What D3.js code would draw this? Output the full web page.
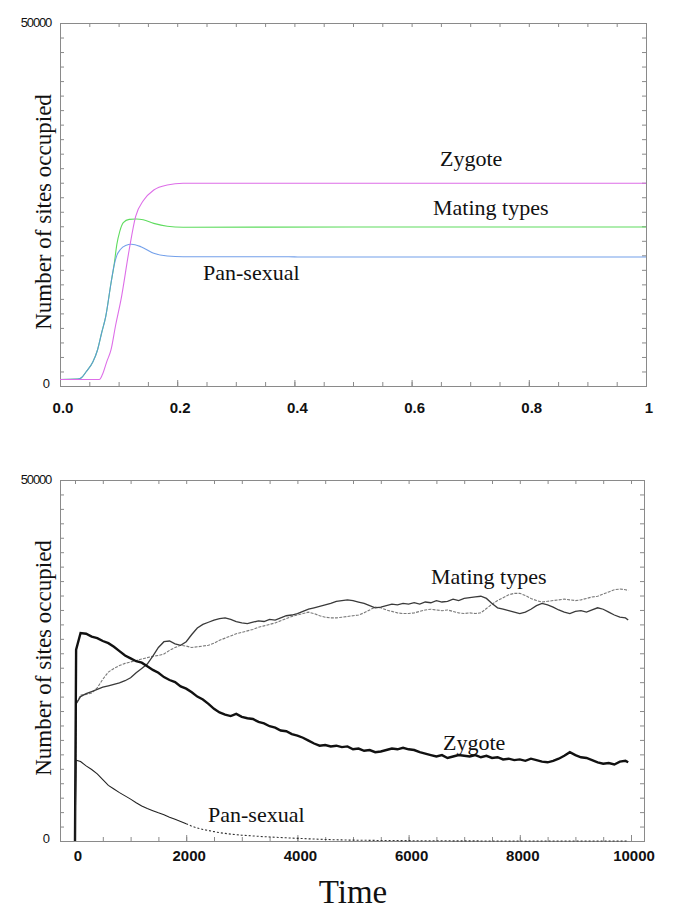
<!DOCTYPE html>
<html>
<head>
<meta charset="utf-8">
<script src="https://cdn.jsdelivr.net/npm/d3@7/dist/d3.min.js"></script>
<style>
  html, body { margin: 0; padding: 0; background: #fff; }
  svg { display: block; }
</style>
</head>
<body>
<svg id="chart" width="685" height="922"></svg>
<script>
// ---------- DATA ----------
// Top panel (deterministic model), time 0..1
const topXTicks = [0, 0.2, 0.4, 0.6, 0.8, 1];
const topXTickLabels = ["0.0", "0.2", "0.4", "0.6", "0.8", "1"];
const yTickLabels = ["0", "50000"];
const yTickValues = [0, 50000];

const topZygoteT = [0, 0.067, 0.072, 0.08, 0.087, 0.095, 0.104, 0.118, 0.129, 0.143, 0.16, 0.183, 0.21, 0.4, 0.7, 1.0];
const topZygoteV = [900, 900, 1500, 3400, 4960, 8400, 11850, 18730, 23320, 25620, 27000, 27690, 27920, 27920, 27920, 27920];

const topMatingT = [0, 0.03, 0.036, 0.045, 0.056, 0.064, 0.071, 0.078, 0.087, 0.092, 0.097, 0.102, 0.108, 0.118, 0.13, 0.142, 0.16, 0.183, 0.21, 0.5, 1.0];
const topMatingV = [900, 950, 1100, 2000, 3300, 4960, 7300, 9550, 14150, 16500, 19500, 21300, 22500, 22950, 23000, 22900, 22400, 22000, 21870, 21900, 21900];

const topPanT = [0, 0.03, 0.036, 0.045, 0.056, 0.064, 0.071, 0.078, 0.087, 0.092, 0.097, 0.103, 0.112, 0.122, 0.138, 0.16, 0.183, 0.21, 0.39, 0.41, 1.0];
const topPanV = [900, 950, 1100, 2000, 3300, 4960, 7300, 9550, 14150, 16500, 18000, 18800, 19350, 19520, 19190, 18280, 17910, 17810, 17810, 17760, 17760];

// Bottom panel (stochastic simulation), time 0..10000
const botT = [0, 20, 100, 200, 300, 400, 500, 600, 700, 800, 900,
  1000, 1100, 1200, 1300, 1400, 1500, 1600, 1700, 1800, 1900,
  2000, 2100, 2200, 2300, 2400, 2500, 2600, 2700, 2800, 2900,
  3000, 3100, 3200, 3300, 3400, 3500, 3600, 3700, 3800, 3900,
  4000, 4100, 4200, 4300, 4400, 4500, 4600, 4700, 4800, 4900,
  5000, 5100, 5200, 5300, 5400, 5500, 5600, 5700, 5800, 5900,
  6000, 6100, 6200, 6300, 6400, 6500, 6600, 6700, 6800, 6900,
  7000, 7100, 7200, 7300, 7400, 7500, 7600, 7700, 7800, 7900,
  8000, 8100, 8200, 8300, 8400, 8500, 8600, 8700, 8800, 8900,
  9000, 9100, 9200, 9300, 9400, 9500, 9600, 9700, 9800, 9900, 9950];

const botZygote = [0, 26500, 28800, 28700, 28300, 28100, 27700, 27400, 26900, 26300, 25700,
  25300, 24900, 24700, 24200, 23700, 23300, 22700, 22300, 22000, 21400,
  21100, 20600, 20000, 19600, 19000, 18300, 17800, 17500, 17300, 17600,
  17200, 17000, 16900, 16500, 16300, 15900, 15700, 15300, 15200, 14800,
  14600, 14300, 13900, 13500, 13200, 13300, 13100, 13200, 13000, 13100,
  12700, 12800, 12500, 12600, 12300, 12400, 12600, 12800, 12700, 12900,
  12700, 12600, 12300, 12100, 11900, 11700, 11900, 11500, 11700, 11900,
  11800, 11700, 11900, 11600, 11800, 11500, 11600, 11300, 11400, 11200,
  11300, 11100, 11400, 11200, 11000, 10900, 11100, 11400, 11800, 12300,
  11900, 11600, 11500, 11200, 10900, 10700, 10800, 10600, 11000, 11100, 10900];

const botMatingA = [0, 19000, 20000, 20400, 20700, 21000, 21300, 21500, 21700, 21900, 22200,
  22600, 23300, 23900, 24500, 25600, 26800, 27600, 27700, 27300, 27100,
  27600, 28600, 29500, 30000, 30300, 30600, 30800, 30900, 30700, 30400,
  30200, 30100, 30300, 30500, 30400, 30700, 30600, 30900, 31200, 31300,
  31500, 31800, 32100, 32300, 32500, 32700, 32900, 33200, 33300, 33400,
  33300, 33100, 32900, 32600, 32300, 32400, 32600, 32800, 32700, 32900,
  32800, 33000, 32800, 33100, 33000, 33300, 33100, 33200, 33500, 33300,
  33600, 33700, 33800, 33900, 33600, 32900, 32300, 32100, 31900, 31700,
  31500, 31700, 32100, 32600, 32900, 32700, 32400, 32000, 31700, 31500,
  31800, 31900, 31700, 32000, 32300, 32100, 31700, 31300, 31000, 30900, 30600];

const botMatingB = [0, 19000, 20200, 20300, 20500, 21200, 22400, 23400, 23900, 24300, 24600,
  24800, 25000, 25200, 25400, 25600, 25700, 25900, 26400, 26800, 27100,
  27000, 26800, 26900, 27000, 27100, 27400, 27800, 28100, 28400, 28700,
  28900, 29100, 29300, 29600, 29800, 30000, 30200, 30500, 30800, 31100,
  31300, 31500, 31700, 31500, 31200, 31000, 30900, 30900, 31000, 31100,
  31200, 31300, 31600, 32000, 32400, 32300, 32000, 31800, 31600, 31500,
  31500, 31600, 31800, 32000, 32100, 32000, 31900, 32000, 31800, 31600,
  31500, 31600, 31500, 31600, 32200, 32800, 33300, 33700, 34100, 34300,
  34300, 34000, 33600, 33300, 33100, 33200, 33300, 33400, 33500, 33400,
  33300, 33400, 33600, 33800, 33900, 34200, 34500, 34800, 34900, 34800, 34700];

const botPan = [0, 11200, 11000, 10400, 9900, 9300, 8500, 7700, 7200, 6700, 6250,
  5800, 5300, 4850, 4500, 4200, 3900, 3650, 3300, 3000, 2700,
  2400, 2050, 1800, 1600, 1450, 1300, 1150, 1050, 950, 880,
  800, 760, 700, 650, 600, 560, 520, 480, 440, 400,
  370, 340, 300, 270, 240, 210, 190, 170, 150, 130,
  120, 110, 100, 90, 80, 70, 70, 60, 60, 50,
  50, 40, 40, 40, 30, 30, 30, 30, 20, 20,
  20, 20, 20, 10, 10, 10, 10, 10, 10, 10,
  10, 0, 0, 0, 0, 0, 0, 0, 0, 0,
  0, 0, 0, 0, 0, 0, 0, 0, 0, 0, 0];

const botXTicks = [0, 2000, 4000, 6000, 8000, 10000];
const botXTickLabels = ["0", "2000", "4000", "6000", "8000", "10000"];

const labelsText = { zygote: "Zygote", mating: "Mating types", pan: "Pan-sexual" };
const yTitle = "Number of sites occupied";
const xTitle = "Time";

// ---------- DRAW ----------
const svg = d3.select("#chart");
const serif = "'Liberation Serif', 'Times New Roman', serif";
const sans = "'Liberation Sans', Arial, sans-serif";
const frameColor = "#8a8a8a";

function drawFrame(g, x0, x1, y0, y1, xScale, yScale, majors, minorStep, xDomain) {
  const minors = d3.range(xDomain[0], xDomain[1] + minorStep / 2, minorStep);
  const yMinors = d3.range(0, 50001, 2000);
  // bottom axis major + minor ticks (inward)
  const bMin = g.append("g").attr("transform", `translate(0,${y1})`)
    .call(d3.axisBottom(xScale).tickValues(minors).tickSize(-4).tickFormat(""));
  const bMaj = g.append("g").attr("transform", `translate(0,${y1})`)
    .call(d3.axisBottom(xScale).tickValues(majors).tickSize(-6).tickFormat(""));
  const tMin = g.append("g").attr("transform", `translate(0,${y0})`)
    .call(d3.axisTop(xScale).tickValues(minors).tickSize(-4).tickFormat(""));
  const lAx = g.append("g").attr("transform", `translate(${x0},0)`)
    .call(d3.axisLeft(yScale).tickValues(yMinors).tickSize(-4).tickFormat(""));
  const rAx = g.append("g").attr("transform", `translate(${x1},0)`)
    .call(d3.axisRight(yScale).tickValues(yMinors).tickSize(-4).tickFormat(""));
  [bMin, bMaj, tMin, lAx, rAx].forEach(a => {
    a.select(".domain").remove();
    a.selectAll("line").attr("stroke", frameColor).attr("stroke-width", 1);
  });
  g.append("rect").attr("x", x0 + 0.5).attr("y", y0 + 0.5)
    .attr("width", x1 - x0).attr("height", y1 - y0)
    .attr("fill", "none").attr("stroke", frameColor).attr("stroke-width", 1);
}

function yLabels(g, yScale, x, top) {
  g.append("text").attr("x", 51).attr("y", yScale(50000) + 4)
    .attr("text-anchor", "end").attr("font-family", sans).attr("font-size", 13)
    .attr("letter-spacing", -1.2).attr("fill", "#111").text(yTickLabels[1]);
  g.append("text").attr("x", 50).attr("y", yScale(0) + 2)
    .attr("text-anchor", "end").attr("font-family", sans).attr("font-size", 13)
    .attr("fill", "#111").text(yTickLabels[0]);
}

function yTitleText(g, cy) {
  g.append("text").attr("transform", `translate(51,${cy}) rotate(-90)`)
    .attr("text-anchor", "middle").attr("font-family", serif).attr("font-size", 23)
    .attr("fill", "#111").text(yTitle);
}

function lbl(g, x, y, t) {
  g.append("text").attr("x", x).attr("y", y).attr("font-family", serif)
    .attr("font-size", 22).attr("fill", "#111").text(t);
}

// ===== TOP PANEL =====
const gT = svg.append("g");
const xT = d3.scaleLinear().domain([0, 1]).range([60, 646]);
const yT = d3.scaleLinear().domain([0, 50000]).range([386, 23]);
drawFrame(gT, 60, 646, 23, 386, xT, yT, topXTicks, 0.05, [0, 1]);

gT.selectAll(".xl").data(topXTicks).join("text")
  .attr("x", (d) => xT(d) + 3).attr("y", 413)
  .attr("text-anchor", "middle").attr("font-family", sans).attr("font-weight", "bold")
  .attr("font-size", 15).attr("fill", "#111")
  .text((d, i) => topXTickLabels[i]);
yLabels(gT, yT);
yTitleText(gT, 212);

const lineT = d3.line().x(d => xT(d[0])).y(d => yT(d[1])).curve(d3.curveMonotoneX);
gT.append("path").attr("d", lineT(topMatingT.map((t, i) => [t, topMatingV[i]])))
  .attr("fill", "none").attr("stroke", "#5fdc5f").attr("stroke-width", 1.1);
gT.append("path").attr("d", lineT(topPanT.map((t, i) => [t, topPanV[i]])))
  .attr("fill", "none").attr("stroke", "#5b8fe6").attr("stroke-width", 1.1).attr("stroke-opacity", 0.85);
gT.append("path").attr("d", lineT(topZygoteT.map((t, i) => [t, topZygoteV[i]])))
  .attr("fill", "none").attr("stroke", "#dd6ee8").attr("stroke-width", 1.1);

lbl(gT, 440, 166, labelsText.zygote);
lbl(gT, 433, 215, labelsText.mating);
lbl(gT, 203, 280, labelsText.pan);

// ===== BOTTOM PANEL =====
const gB = svg.append("g");
const xB = d3.scaleLinear().domain([0, 10000]).range([75, 631]);
const yB = d3.scaleLinear().domain([0, 50000]).range([841, 480]);
drawFrame(gB, 60, 644, 480, 841, xB, yB, botXTicks, 500, [0, 10000]);

gB.selectAll(".xl").data(botXTicks).join("text")
  .attr("x", (d) => xB(d) + 3).attr("y", 861)
  .attr("text-anchor", "middle").attr("font-family", sans).attr("font-weight", "bold")
  .attr("font-size", 15).attr("fill", "#111")
  .text((d, i) => botXTickLabels[i]);
yLabels(gB, yB);
yTitleText(gB, 658);

const lineB = d3.line().x(d => xB(d[0])).y(d => yB(d[1]));
const ser = (arr) => botT.map((t, i) => [t, arr[i]]);

gB.append("path").attr("d", lineB(ser(botMatingB)))
  .attr("fill", "none").attr("stroke", "#7a7a7a").attr("stroke-width", 1.1)
  .attr("stroke-dasharray", "3,1.2");
gB.append("path").attr("d", lineB(ser(botMatingA)))
  .attr("fill", "none").attr("stroke", "#3a3a3a").attr("stroke-width", 1.3);
gB.append("path").attr("d", lineB(ser(botZygote)))
  .attr("fill", "none").attr("stroke", "#111").attr("stroke-width", 2.4);

const panAll = ser(botPan);
const panSolid = panAll.filter(d => d[0] <= 2000);
const panDot = panAll.filter(d => d[0] >= 2000);
gB.append("path").attr("d", lineB(panSolid))
  .attr("fill", "none").attr("stroke", "#222").attr("stroke-width", 1.1);
gB.append("path").attr("d", lineB(panDot))
  .attr("fill", "none").attr("stroke", "#333").attr("stroke-width", 1.1)
  .attr("stroke-dasharray", "2,2");

lbl(gB, 431, 584, labelsText.mating);
lbl(gB, 443, 750, labelsText.zygote);
lbl(gB, 208, 822, labelsText.pan);

svg.append("text").attr("x", 353).attr("y", 903).attr("text-anchor", "middle")
  .attr("font-family", serif).attr("font-size", 33).attr("fill", "#111").text(xTitle);
</script>
</body>
</html>
